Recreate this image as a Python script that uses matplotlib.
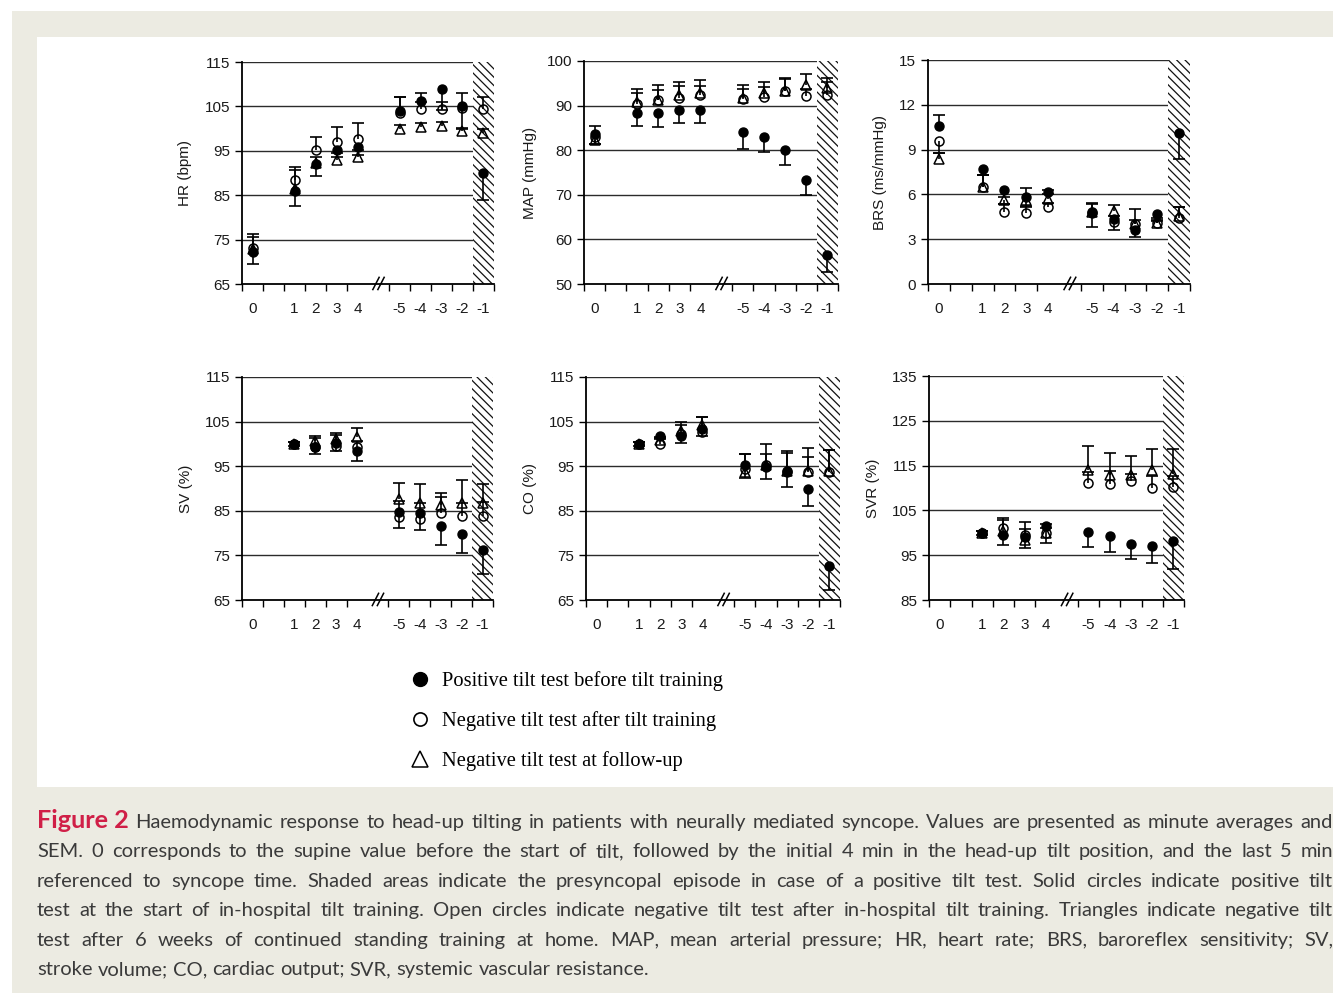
import matplotlib
matplotlib.use("Agg")
import matplotlib.pyplot as plt
import matplotlib.transforms as mtransforms
from matplotlib.lines import Line2D
from matplotlib.patches import Rectangle
import numpy as np

# Categorías del eje x (minutos) y su posición en "ranuras".
x_labels = ["0", "1", "2", "3", "4", "-5", "-4", "-3", "-2", "-1"]
slot_pos = np.array([0, 2, 3, 4, 5, 7, 8, 9, 10, 11]) + 0.5

nan = np.nan

# HR (bpm): valores y SEM con signo (+ hacia arriba, - hacia abajo).
hr_pos = [72.2, 85.9, 92.1, 95.1, 95.8, 103.9, 106.2, 108.9, 105.0, 90.0]
hr_pos_err = [-2.8, -3.4, -2.7, -1.5, -1.8, 3.2, 1.8, -4.7, 3.0, -6.0]
hr_neg = [73.0, 88.5, 95.1, 96.9, 97.6, 103.5, 104.4, 104.4, 104.7, 104.4]
hr_neg_err = [3.2, 2.8, 3.1, 3.4, 3.6, 3.6, 1.5, 1.5, -4.8, 2.7]
hr_fu = [72.8, 86.3, 92.3, 92.9, 93.6, 99.9, 100.4, 100.6, 99.4, 98.9]
hr_fu_err = [2.7, 4.3, 1.2, 1.5, 1.5, 1.0, 0.8, 0.8, 0.8, 1.0]

# MAP (mmHg)
map_pos = [83.6, 88.3, 88.3, 89.0, 89.0, 84.0, 82.9, 80.0, 73.3, 56.6]
map_pos_err = [1.8, -2.9, -3.2, -3.0, -3.0, -3.8, -3.2, -3.3, -3.4, -3.9]
map_neg = [83.0, 90.3, 91.2, 91.8, 92.3, 91.5, 91.9, 93.2, 92.2, 92.4]
map_neg_err = [-1.5, 2.5, 2.3, 2.6, 2.1, 2.2, 2.2, 2.8, 1.5, 3.0]
map_fu = [82.3, 90.9, 91.3, 92.4, 92.8, 91.6, 92.8, 93.3, 94.6, 93.9]
map_fu_err = [-0.8, 2.8, 3.3, 3.0, 2.9, 3.0, 2.6, 2.8, 2.5, 2.4]

# BRS (ms/mmHg)
brs_pos = [10.57, 7.68, 6.31, 5.8, 6.16, 4.75, 4.37, 3.6, 4.7, 10.14]
brs_pos_err = [0.75, -0.4, -0.5, 0.65, 0.15, -0.95, -0.75, -0.45, -0.5, -1.75]
brs_neg = [9.55, 6.5, 4.8, 4.75, 5.15, 4.8, 4.15, 4.0, 4.1, 4.45]
brs_neg_err = [-0.8, 0.8, 0.55, 0.45, 0.3, 0.6, 0.4, 1.05, 0.2, 0.7]
brs_fu = [8.4, 6.5, 5.65, 5.65, 5.7, 4.8, 4.9, 4.0, 4.1, 4.55]
brs_fu_err = [0.4, 0.8, -0.3, -0.5, 0.3, 0.55, 0.4, 0.3, 0.3, 0.6]

# SV (%)
sv_pos = [nan, 100.0, 99.2, 100.1, 98.5, 84.8, 84.5, 81.5, 79.7, 76.1]
sv_pos_err = [nan, -0.5, -1.5, -1.6, -2.3, -3.6, -3.7, -4.1, -4.2, -5.2]
sv_neg = [nan, 100.0, 99.4, 99.6, 99.2, 83.6, 83.2, 84.5, 83.8, 83.9]
sv_neg_err = [nan, 0.5, 2.0, 2.4, 1.5, 3.5, 3.5, 3.7, 3.0, 3.0]
sv_fu = [nan, 100.0, 100.7, 101.1, 101.5, 87.7, 86.8, 86.2, 86.8, 86.8]
sv_fu_err = [nan, 0.5, 1.1, 1.3, 2.0, 3.6, 4.3, 2.9, 5.1, 4.2]

# CO (%)
co_pos = [nan, 100.0, 101.7, 101.8, 103.3, 95.2, 94.9, 93.7, 90.0, 72.6]
co_pos_err = [nan, -0.4, -0.5, -1.5, -1.5, -2.8, -2.7, -3.3, -3.9, -5.4]
co_neg = [nan, 100.0, 99.9, 102.3, 102.7, 94.3, 95.2, 93.9, 93.6, 93.7]
co_neg_err = [nan, 0.4, 1.5, 2.0, 3.3, 3.5, 2.6, 4.0, 3.5, 4.9]
co_fu = [nan, 100.0, 100.8, 103.0, 104.3, 93.7, 95.2, 93.9, 93.9, 93.9]
co_fu_err = [nan, 0.4, 0.8, 1.8, 1.7, 4.1, 4.8, 4.4, 5.1, 4.7]

# SVR (%)
svr_pos = [nan, 100.0, 99.5, 99.0, 101.5, 100.2, 99.3, 97.6, 97.0, 98.2]
svr_pos_err = [nan, -0.5, -2.2, -2.5, -0.5, -3.4, -3.6, -3.5, -3.8, -6.3]
svr_neg = [nan, 100.0, 101.0, 99.5, 100.0, 111.2, 111.0, 111.6, 110.0, 110.2]
svr_neg_err = [nan, 0.5, 2.2, 2.8, 2.0, 2.3, 2.8, 1.5, 2.7, 2.5]
svr_fu = [nan, 100.0, 100.5, 98.5, 100.0, 114.0, 112.8, 113.0, 114.0, 113.2]
svr_fu_err = [nan, 0.5, 2.3, 2.3, -2.3, 5.3, 5.0, 4.2, 4.8, 5.5]

legend_labels = [
    "Positive tilt test before tilt training",
    "Negative tilt test after tilt training",
    "Negative tilt test at follow-up",
]

caption_lines = [
    "Haemodynamic response to head-up tilting in patients with neurally mediated syncope. Values are presented as minute averages and",
    "SEM. 0 corresponds to the supine value before the start of tilt, followed by the initial 4 min in the head-up tilt position, and the last 5 min",
    "referenced to syncope time. Shaded areas indicate the presyncopal episode in case of a positive tilt test. Solid circles indicate positive tilt",
    "test at the start of in-hospital tilt training. Open circles indicate negative tilt test after in-hospital tilt training. Triangles indicate negative tilt",
    "test after 6 weeks of continued standing training at home. MAP, mean arterial pressure; HR, heart rate; BRS, baroreflex sensitivity; SV,",
    "stroke volume; CO, cardiac output; SVR, systemic vascular resistance.",
]

W, H = 1343, 993
plt.rcParams["font.family"] = ["Liberation Sans", "DejaVu Sans"]
plt.rcParams["hatch.linewidth"] = 0.9
fig = plt.figure(figsize=(W / 100, H / 100), dpi=100)
fig.patch.set_facecolor("white")

# Fondo beige de la figura de la revista y panel blanco interior.
fig.add_artist(Rectangle((12 / W, 0), (1333 - 12) / W, (H - 11) / H,
                         transform=fig.transFigure, facecolor="#ecebe2",
                         edgecolor="none", zorder=-20))
fig.add_artist(Rectangle((37 / W, 1 - 787 / H), (1333 - 37) / W, (787 - 37) / H,
                         transform=fig.transFigure, facecolor="white",
                         edgecolor="none", zorder=-19))

# Paneles: (ylabel, ylim, paso, caja en píxeles, separación de la etiqueta, datos)
panels = [
    ("HR (bpm)", (65, 115), 10, (242, 62, 494, 284), 50,
     (hr_pos, hr_pos_err, hr_neg, hr_neg_err, hr_fu, hr_fu_err)),
    ("MAP (mmHg)", (50, 100), 10, (584, 61, 838, 284), 47,
     (map_pos, map_pos_err, map_neg, map_neg_err, map_fu, map_fu_err)),
    ("BRS (ms/mmHg)", (0, 15), 3, (928, 60, 1190, 284), 41,
     (brs_pos, brs_pos_err, brs_neg, brs_neg_err, brs_fu, brs_fu_err)),
    ("SV (%)", (65, 115), 10, (242, 377, 493, 600), 49,
     (sv_pos, sv_pos_err, sv_neg, sv_neg_err, sv_fu, sv_fu_err)),
    ("CO (%)", (65, 115), 10, (586, 377, 840, 600), 49,
     (co_pos, co_pos_err, co_neg, co_neg_err, co_fu, co_fu_err)),
    ("SVR (%)", (85, 135), 10, (929, 376, 1184, 600), 49,
     (svr_pos, svr_pos_err, svr_neg, svr_neg_err, svr_fu, svr_fu_err)),
]

styles = [
    dict(marker="o", ms=6.5, mfc="black", mec="black", mew=1.0),
    dict(marker="o", ms=6.5, mfc="none", mec="black", mew=1.1),
    dict(marker="^", ms=7, mfc="none", mec="black", mew=1.1),
]


def draw_series(ax, y, err, style, z):
    y = np.asarray(y, dtype=float)
    err = np.asarray(err, dtype=float)
    ok = ~np.isnan(y)
    top = y + err
    ax.vlines(slot_pos[ok], y[ok], top[ok], color="black", lw=1.2, zorder=z)
    ax.plot(slot_pos[ok], top[ok], ls="none", marker="_", ms=9, mew=1.2,
            color="black", zorder=z)
    ax.plot(slot_pos[ok], y[ok], ls="none", zorder=z + 0.5, **style)


for ylabel, ylim, step, (l, t, r, b), lab_off, data in panels:
    ax = fig.add_axes([l / W, 1 - b / H, (r - l) / W, (b - t) / H])
    ax.set_xlim(0, 12)
    ax.set_ylim(*ylim)

    # Zona sombreada del episodio presincopal.
    ax.axvspan(11, 12, facecolor="white", edgecolor="#111111", hatch="\\" * 4,
               lw=0, zorder=1)

    # Líneas horizontales de referencia.
    yt = np.arange(ylim[0], ylim[1] + step / 2, step)
    ax.set_yticks(yt)
    for v in yt[1:]:
        ax.axhline(v, color="#2b2b2b", lw=1.0, zorder=0.5)

    pos, pos_err, neg, neg_err, fu, fu_err = data
    draw_series(ax, fu, fu_err, styles[2], 3)
    draw_series(ax, neg, neg_err, styles[1], 4)
    draw_series(ax, pos, pos_err, styles[0], 5)

    # Ejes: marcas en los bordes de ranura y etiquetas en los centros.
    ax.set_xticks([0, 1, 2, 3, 4, 5, 7, 8, 9, 10, 11, 12])
    ax.set_xticks(slot_pos, minor=True)
    ax.set_xticklabels([])
    ax.set_xticklabels(x_labels, minor=True)
    ax.tick_params(axis="x", which="major", length=5, width=1.0, direction="out")
    ax.tick_params(axis="x", which="minor", length=0, pad=13, labelsize=11,
                   labelcolor="#1a1a1a")
    ax.tick_params(axis="y", length=5, width=1.0, direction="out", labelsize=11,
                   labelcolor="#1a1a1a")
    for s in ["top", "right"]:
        ax.spines[s].set_visible(False)
    ax.spines["left"].set_linewidth(1.3)
    ax.spines["bottom"].set_linewidth(1.3)
    ax.set_ylabel(ylabel, fontsize=11, color="#1a1a1a")
    ax.yaxis.set_label_coords(-lab_off / (r - l), 0.5)

    # Marca de corte "//" en el eje x.
    tr = mtransforms.blended_transform_factory(ax.transData, ax.transAxes)
    for dx in (-0.12, 0.12):
        ax.add_line(Line2D([6.35 + dx, 6.65 + dx], [-0.025, 0.03], transform=tr,
                           color="black", lw=1.1, clip_on=False, zorder=6))

# Leyenda
handles = [Line2D([], [], ls="none", marker="o", ms=10, mfc="black", mec="black"),
           Line2D([], [], ls="none", marker="o", ms=9.5, mfc="none", mec="black", mew=1.2),
           Line2D([], [], ls="none", marker="^", ms=11, mfc="none", mec="black", mew=1.1)]
fig.legend(handles, legend_labels, loc="upper left",
           bbox_to_anchor=(399 / W, 1 - 661 / H), frameon=False, borderpad=0,
           handlelength=1.0, handletextpad=0.57, labelspacing=0.97,
           prop=dict(family=["Liberation Serif", "DejaVu Serif"], size=14.8))

# Pie de figura justificado: tamaño de letra ajustado a la línea más larga.
renderer = fig.canvas.get_renderer()
x_left, x_right = 37, 1333
cap_family = ["Lato", "DejaVu Sans"]
head = "Figure 2"
head_scale = 1.25


def measure(s, **kw):
    t = fig.text(0, 0, s, **kw)
    w = t.get_window_extent(renderer).width
    t.remove()
    return w


base = 14.0
space = measure("a a", family=cap_family, size=base) - measure("aa", family=cap_family, size=base)
natural = []
for i, line in enumerate(caption_lines[:-1]):
    words = line.split()
    extra = 0
    if i == 0:
        extra = measure(head, family=cap_family, size=base * head_scale, weight="bold") + space
    natural.append(extra + sum(measure(w, family=cap_family, size=base) for w in words)
                   + space * (len(words) - 1))
cap_size = min(15.5, base * (x_right - x_left) / max(natural) * 0.985)

for i, line in enumerate(caption_lines):
    y = 1 - (828 + i * 29.4) / H
    kw = dict(family=cap_family, size=cap_size, color="#3a3a3a")
    tokens = [(w, kw) for w in line.split()]
    if i == 0:
        tokens = [(head, dict(kw, weight="bold", color="#d01f47",
                              size=cap_size * head_scale))] + tokens
    arts = [fig.text(0, y, s, va="baseline", ha="left", **k) for s, k in tokens]
    widths = [a.get_window_extent(renderer).width for a in arts]
    if i < len(caption_lines) - 1:
        gap = (x_right - x_left - sum(widths)) / (len(arts) - 1)
    else:
        gap = space * cap_size / base
    x = x_left
    for a, w in zip(arts, widths):
        a.set_x(x / W)
        x += w + gap

fig.savefig("out.png", dpi=100)
